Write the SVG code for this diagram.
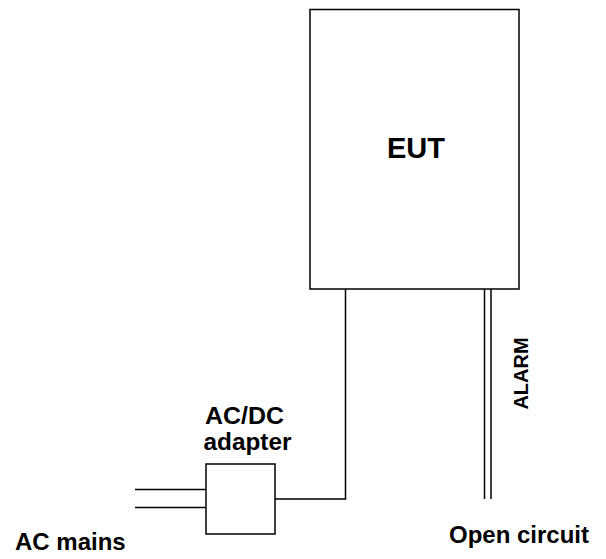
<svg xmlns="http://www.w3.org/2000/svg" width="606" height="559" viewBox="0 0 606 559">
<style>
.box{fill:#fff;stroke:#000;stroke-width:1.5}
.w{fill:none;stroke:#000;stroke-width:1.5}
text{font-family:"Liberation Sans",Arial,sans-serif;font-weight:bold;fill:#000}
</style>
<rect width="606" height="559" fill="#fff"/>
<g id="connectors">
<polyline class="w" points="275,499 345.5,499 345.5,289"/>
<line class="w" x1="484.5" y1="289" x2="484.5" y2="499"/>
<line class="w" x1="491" y1="289" x2="491" y2="499"/>
<line class="w" x1="135" y1="489.5" x2="206" y2="489.5"/>
<line class="w" x1="135" y1="507.5" x2="206" y2="507.5"/>
</g>
<g id="eut">
<rect class="box" x="310" y="9.5" width="209" height="279.5"/>
<text x="416" y="158" font-size="29" text-anchor="middle">EUT</text>
</g>
<g id="adapter">
<rect class="box" x="206" y="464" width="69" height="70"/>
<text x="205" y="424" font-size="23" textLength="79" lengthAdjust="spacingAndGlyphs">AC/DC</text>
<text x="203.5" y="450" font-size="23" textLength="88" lengthAdjust="spacingAndGlyphs">adapter</text>
</g>
<g id="mains">
<text x="15" y="550" font-size="24">AC mains</text>
</g>
<g id="open">
<text x="449" y="543" font-size="24">Open circuit</text>
</g>
<g id="alarm">
<text transform="translate(528,373.5) rotate(-90)" font-size="20" text-anchor="middle">ALARM</text>
</g>
</svg>
